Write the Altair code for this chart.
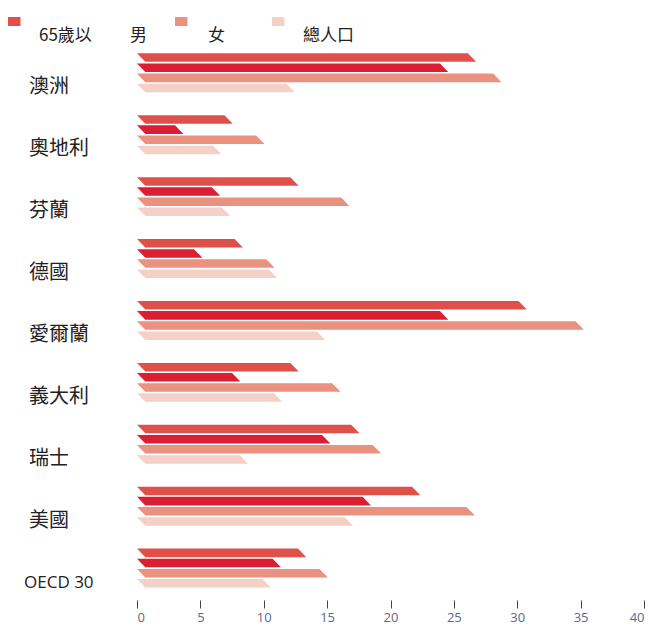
import altair as alt
import pandas as pd

# ---- data ----
countries = ["澳洲", "奧地利", "芬蘭", "德國", "愛爾蘭", "義大利", "瑞士", "美國", "OECD 30"]
series = ["65歲以", "男", "女", "總人口"]
v_65 = [26.1, 6.9, 12.1, 7.7, 30.1, 12.1, 16.9, 21.7, 12.7]
v_male = [23.9, 3.0, 5.9, 4.5, 23.9, 7.5, 14.6, 17.8, 10.7]
v_female = [28.1, 9.4, 16.1, 10.2, 34.6, 15.4, 18.6, 26.0, 14.4]
v_total = [11.8, 6.0, 6.7, 10.4, 14.2, 10.8, 8.1, 16.4, 9.9]
x_ticks = [0, 5, 10, 15, 20, 25, 30, 35, 40]

# ---- style ----
colors = ["#E0504A", "#DC1E32", "#EB9180", "#F5D0C6"]
GROUP = 6.1      # slots between group tops
BAR_H = 0.84     # bar thickness in slots
SLANT = 0.655    # horizontal shear of bar ends (x units)
LABEL_OFF = 3.35  # country label position inside group (slots)

rows = []
for g, c in enumerate(countries):
    for s, vals in enumerate([v_65, v_male, v_female, v_total]):
        v = vals[g]
        top = g * GROUP + s
        key = f"{g}-{s}"
        rows.append(dict(key=key, series=series[s], yy=top, x0=0.0, x1=v))
        rows.append(dict(key=key, series=series[s], yy=top + BAR_H, x0=SLANT, x1=v + SLANT))
bars_df = pd.DataFrame(rows)
labels_df = pd.DataFrame({"country": countries,
                          "ly": [g * GROUP + LABEL_OFF for g in range(len(countries))]})

xscale = alt.Scale(domain=[0, 40], range=[137, 644], nice=False, zero=False)
yscale = alt.Scale(domain=[0, 53], range=[53.3, 53.3 + 53 * 10.15], nice=False, zero=False)

bars = alt.Chart(bars_df).mark_area(orient="horizontal").encode(
    y=alt.Y("yy:Q", scale=yscale, axis=None),
    x=alt.X("x0:Q", scale=xscale, stack=None,
            axis=alt.Axis(values=x_ticks, tickSize=8, tickColor="#444444", tickWidth=1,
                          domain=False, grid=False, labelColor="#5b6a85", labelFontSize=13,
                          labelFont="Open Sans", labelPadding=3, title=None)),
    x2="x1:Q",
    color=alt.Color("series:N", scale=alt.Scale(domain=series, range=colors), legend=None),
    detail="key:N",
)

cjk_text = alt.Chart(labels_df).transform_filter(
    alt.datum.country != "OECD 30"
).mark_text(
    align="left", baseline="middle", fontSize=20, font="Noto Sans CJK TC", color="#222222"
).encode(
    x=alt.value(29),
    y=alt.Y("ly:Q", scale=yscale, axis=None),
    text="country:N",
)

latin_text = alt.Chart(labels_df).transform_filter(
    alt.datum.country == "OECD 30"
).mark_text(
    align="left", baseline="middle", fontSize=17, font="Open Sans", color="#222222"
).encode(
    x=alt.value(24),
    y=alt.Y("ly:Q", scale=yscale, axis=None),
    text="country:N",
)

# ---- legend (drawn by hand, as in the reference) ----
one = alt.Data(values=[{"k": 1}])
legend_layers = []
marker_series = [0, 2, 3]
marker_x = [8, 175, 272]
for idx, mx in zip(marker_series, marker_x):
    legend_layers.append(
        alt.Chart(one).mark_rect(color=colors[idx]).encode(
            x=alt.value(mx), x2=alt.value(mx + 12.5), y=alt.value(17), y2=alt.value(26)
        )
    )
label_x = [39, 130, 208, 303]
for name, lx in zip(series, label_x):
    legend_layers.append(
        alt.Chart(one).mark_text(
            align="left", baseline="middle", fontSize=17, font="Noto Sans CJK TC",
            color="#222222", text=name
        ).encode(x=alt.value(lx), y=alt.value(36))
    )

chart = alt.layer(bars, cjk_text, latin_text, *legend_layers).properties(
    width=653, height=600,
    autosize=alt.AutoSizeParams(type="none"),
    padding={"left": 0, "top": 0, "right": 0, "bottom": 37},
    background="white",
).configure_view(stroke=None)

chart.save("out.html", embed_options={"renderer": "svg", "actions": False})
